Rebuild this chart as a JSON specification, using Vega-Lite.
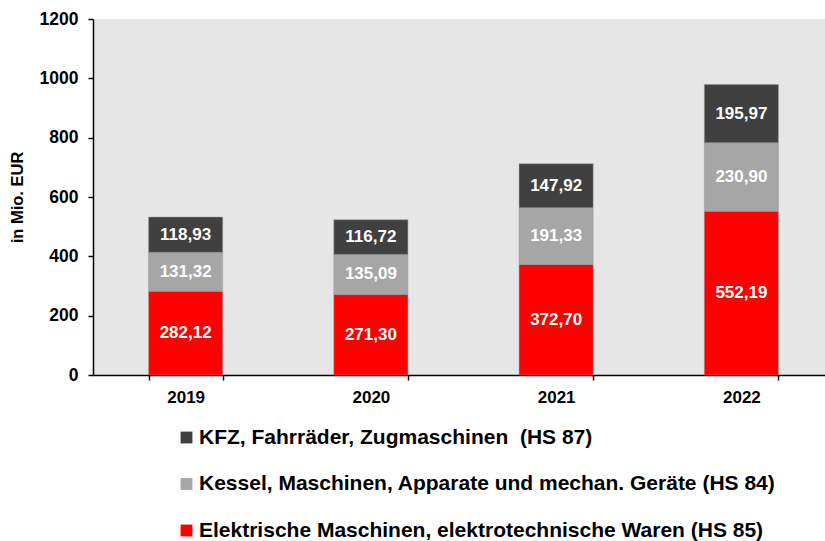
{
  "$schema": "https://vega.github.io/schema/vega-lite/v6.json",
  "width": 741,
  "height": 356,
  "autosize": "none",
  "padding": {"left": 93, "top": 19, "right": 0, "bottom": 166},
  "background": "white",
  "config": {
    "font": "Liberation Sans",
    "view": {"fill": "#e6e6e6", "stroke": null},
    "legend": {"labelFont": "Liberation Sans", "labelFontWeight": 700, "labelColor": "black"},
    "locale": {"number": {"decimal": ",", "thousands": ".", "grouping": [3], "currency": ["", " €"]}}
  },
  "data": {
    "values": [
      {"year": "2019", "category": "Elektrische Maschinen, elektrotechnische Waren (HS 85)", "rank": 1, "value": 282.12},
      {"year": "2019", "category": "Kessel, Maschinen, Apparate und mechan. Geräte (HS 84)", "rank": 2, "value": 131.32},
      {"year": "2019", "category": "KFZ, Fahrräder, Zugmaschinen \u00a0(HS 87)", "rank": 3, "value": 118.93},
      {"year": "2020", "category": "Elektrische Maschinen, elektrotechnische Waren (HS 85)", "rank": 1, "value": 271.30},
      {"year": "2020", "category": "Kessel, Maschinen, Apparate und mechan. Geräte (HS 84)", "rank": 2, "value": 135.09},
      {"year": "2020", "category": "KFZ, Fahrräder, Zugmaschinen \u00a0(HS 87)", "rank": 3, "value": 116.72},
      {"year": "2021", "category": "Elektrische Maschinen, elektrotechnische Waren (HS 85)", "rank": 1, "value": 372.70},
      {"year": "2021", "category": "Kessel, Maschinen, Apparate und mechan. Geräte (HS 84)", "rank": 2, "value": 191.33},
      {"year": "2021", "category": "KFZ, Fahrräder, Zugmaschinen \u00a0(HS 87)", "rank": 3, "value": 147.92},
      {"year": "2022", "category": "Elektrische Maschinen, elektrotechnische Waren (HS 85)", "rank": 1, "value": 552.19},
      {"year": "2022", "category": "Kessel, Maschinen, Apparate und mechan. Geräte (HS 84)", "rank": 2, "value": 230.90},
      {"year": "2022", "category": "KFZ, Fahrräder, Zugmaschinen \u00a0(HS 87)", "rank": 3, "value": 195.97}
    ]
  },
  "transform": [
    {"stack": "value", "groupby": ["year"], "sort": [{"field": "rank", "order": "ascending"}], "as": ["v0", "v1"]},
    {"calculate": "(datum.v0 + datum.v1) / 2", "as": "mid"}
  ],
  "encoding": {
    "x": {
      "field": "year", "type": "nominal",
      "scale": {"paddingInner": 0.6, "paddingOuter": 0.3},
      "axis": {
        "title": null, "labelAngle": 0, "labelFontSize": 17, "labelFontWeight": "bold", "labelColor": "black",
        "domainColor": "black", "domainWidth": 1.5, "tickColor": "black", "tickSize": 5, "tickWidth": 1.5,
        "tickBand": "extent", "labelPadding": 9
      }
    }
  },
  "layer": [
    {
      "mark": {"type": "bar", "stroke": "#999999", "strokeWidth": 0.5},
      "encoding": {
        "y": {
          "field": "v0", "type": "quantitative",
          "scale": {"domain": [0, 1200]},
          "axis": {
            "title": "in Mio. EUR", "titleFontSize": 16.5, "titleFontWeight": "bold", "titleColor": "black", "titlePadding": 14,
            "values": [0, 200, 400, 600, 800, 1000, 1200], "format": "d",
            "labelFontSize": 17.5, "labelFontWeight": "bold", "labelColor": "black", "labelPadding": 10,
            "grid": false, "domainColor": "black", "domainWidth": 1.5, "tickColor": "black", "tickSize": 5, "tickWidth": 1.5
          }
        },
        "y2": {"field": "v1"},
        "color": {
          "field": "category", "type": "nominal",
          "scale": {
            "domain": ["KFZ, Fahrräder, Zugmaschinen \u00a0(HS 87)", "Kessel, Maschinen, Apparate und mechan. Geräte (HS 84)", "Elektrische Maschinen, elektrotechnische Waren (HS 85)"],
            "range": ["#404040", "#a6a6a6", "#ff0000"]
          },
          "legend": {
            "title": null, "orient": "none", "legendX": 83, "legendY": 408,
            "symbolType": "square", "symbolSize": 140, "symbolStrokeWidth": 0, "symbolOpacity": 1,
            "labelFontSize": 21, "labelFontWeight": "bold", "labelColor": "black", "labelOffset": 2,
            "rowPadding": 24.5, "labelLimit": 800
          }
        }
      }
    },
    {
      "mark": {"type": "text", "color": "white", "fontSize": 17, "fontWeight": "bold", "baseline": "middle", "align": "center"},
      "encoding": {
        "y": {"field": "mid", "type": "quantitative"},
        "text": {"field": "value", "type": "quantitative", "format": ".2f"}
      }
    }
  ]
}
